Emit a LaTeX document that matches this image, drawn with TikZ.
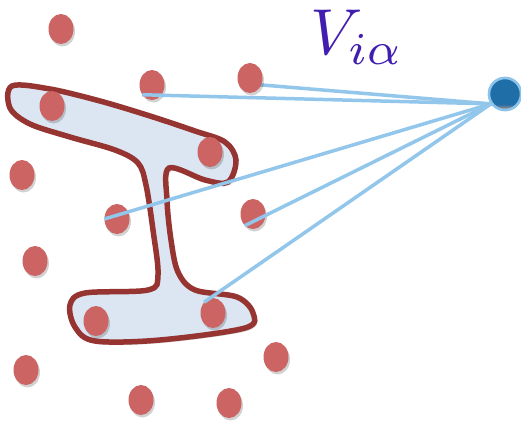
\documentclass[tikz,border=0pt]{standalone}
\usetikzlibrary{shapes.geometric,shadows}
\definecolor{dotred}{RGB}{204,100,100}
\definecolor{beamred}{RGB}{150,52,50}
\definecolor{beamfill}{RGB}{220,230,242}
\definecolor{linecol}{RGB}{146,198,235}
\definecolor{hubblue}{RGB}{31,110,168}
\definecolor{hubtan}{RGB}{205,150,125}
\definecolor{hubrim}{RGB}{140,195,235}
\definecolor{vcolor}{RGB}{65,30,175}
\pgfdeclareverticalshading{hubshade}{100bp}{color(0bp)=(hubtan); color(25bp)=(hubtan); color(34bp)=(hubblue); color(100bp)=(hubblue)}
\tikzset{
  dot/.style={ellipse, minimum width=25pt, minimum height=30pt, inner sep=0pt,
    fill=dotred, drop shadow={shadow xshift=1.5pt, shadow yshift=-2.5pt, opacity=0.18, fill=black}},
  ray/.style={draw=linecol, line width=3.5pt},
  hubnode/.style={circle, minimum size=32pt, inner sep=0pt, draw=hubrim, line width=2.5pt,
    shading=hubshade},
}
\begin{document}
\begin{tikzpicture}[x=1pt,y=-1pt]
\useasboundingbox (0,0) rectangle (521,423);
\def\beampath{plot[smooth cycle, tension=0.55] coordinates {
 (12,86) (50,89) (100,101) (150,116) (195,131) (225,142) (236,160) (228,182) (205,180) (169,168)
 (167,200) (171,240) (178,272) (195,290) (237,297) (253,313) (245,328) (160,340) (95,341)
 (75,327) (70,305) (85,293) (148,290) (158,275) (153,230) (146,185) (138,163) (115,150)
 (70,137) (30,124) (10,108)}}
% beam shadow and beam
\fill[black, opacity=0.15] [shift={(2,3)}] \beampath;
\filldraw[fill=beamfill, draw=beamred, line width=5.5pt] \beampath;
% dots
\node[dot] (d1) at (61,29) {};
\node[dot] (d2) at (152,85) {};
\node[dot] (d4) at (52,106) {};
\node[dot] (d5) at (210,152) {};
\node[dot] (d6) at (22,175) {};
\node[dot] (d7) at (117,219) {};
\node[dot] (d8) at (253,214) {};
\node[dot] (d9) at (35,261) {};
\node[dot] (d10) at (96,321) {};
\node[dot] (d11) at (213,313) {};
\node[dot] (d12) at (276,357) {};
\node[dot] (d13) at (26,370) {};
\node[dot] (d14) at (141,400) {};
\node[dot] (d15) at (229,403) {};
% hub
\node[hubnode] (hub) at (505,94) {};
\coordinate (c) at (hub.215);
\coordinate (e3) at (250,84);
% rays
\draw[ray] (c) -- (d2.225);
\draw[ray] (c) -- (e3);
\draw[ray] (c) -- (d7.west);
\draw[ray] (c) -- (d8.235);
\draw[ray] (c) -- (d11.130);
% dot over its ray
\node[dot] (d3) at (250,78) {};
% hub on top
\node[hubnode] at (hub) {};
% label
\node[text=vcolor, scale=6.5, transform shape, inner sep=0pt] (lab) at (357,37) {$V_{i\alpha}$};
\end{tikzpicture}
\end{document}
